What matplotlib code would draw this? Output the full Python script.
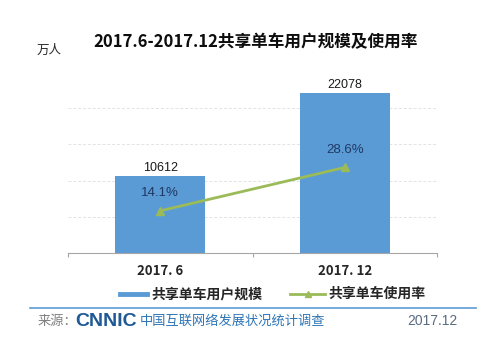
import matplotlib
matplotlib.use("Agg")
import matplotlib.pyplot as plt
import numpy as np

plt.rcParams['font.family'] = ['Noto Sans CJK SC', 'DejaVu Sans']

categories = ['2017. 6', '2017. 12']
users = [10612, 22078]          # 万人
usage_rate = [14.1, 28.6]       # %
bar_labels = ['10612', '22078']
rate_labels = ['14.1%', '28.6%']

W, H = 500, 343
fig = plt.figure(figsize=(W / 100, H / 100), dpi=100)
fig.patch.set_facecolor('white')

def fx(px):
    return px / W

def fy(py):
    return 1 - py / H

# main axes (pixel box)
left, right, top, bottom = 68, 437, 72, 253
ax = fig.add_axes([fx(left), fy(bottom), fx(right - left), (bottom - top) / H])
x = np.arange(len(categories))
ax.bar(x, users, width=0.49, color='#5B9BD5', zorder=2)
ax.set_xlim(-0.5, 1.5)
ax.set_ylim(0, 25000)
for v in [5000, 10000, 15000, 20000]:
    ax.axhline(v, color='#E3E3E3', lw=0.7, ls=(0, (3, 2)), zorder=1)
for s in ['left', 'right', 'top']:
    ax.spines[s].set_visible(False)
ax.spines['bottom'].set_color('#A6A6A6')
ax.set_yticks([])
ax.set_xticks([-0.5, 0.5, 1.5])
ax.set_xticklabels([])
ax.tick_params(axis='x', length=3, color='#A6A6A6')
for i, lab in enumerate(bar_labels):
    ax.text(x[i], users[i] + 350, lab, ha='center', va='bottom',
            fontsize=9, family='Liberation Sans', color='#1a1a1a')
for i, c in enumerate(categories):
    ax.text(x[i], -1500, c, ha='center', va='top', fontsize=9.5,
            fontweight='bold', color='#262626')

ax2 = ax.twinx()
ax2.set_ylim(0, 60.5)
ax2.plot(x, usage_rate, color='#9BBB59', lw=2, marker='^', markersize=6, zorder=3)
ax2.set_yticks([])
for s in ['left', 'right', 'top', 'bottom']:
    ax2.spines[s].set_visible(False)
for i, lab in enumerate(rate_labels):
    ax2.text(x[i], usage_rate[i] + 3.8, lab, ha='center', va='bottom',
             fontsize=9.5, family='Liberation Sans', color='#1F3864')

# title and unit
fig.text(fx(256), fy(42), '2017.6-2017.12共享单车用户规模及使用率', ha='center',
         va='center', fontsize=12, fontweight='bold', color='#0d0d0d')
fig.text(fx(49), fy(50), '万人', ha='center', va='center', fontsize=9, color='#262626')

# legend drawn manually
fig.add_artist(plt.Line2D([fx(120), fx(147)], [fy(294), fy(294)], color='#5B9BD5', lw=3.5))
fig.text(fx(151), fy(294), '共享单车用户规模', ha='left', va='center', fontsize=10,
         fontweight='bold', color='#262626')
fig.add_artist(plt.Line2D([fx(290), fx(325)], [fy(294), fy(294)], color='#9BBB59', lw=2))
fig.add_artist(plt.Line2D([fx(307.5)], [fy(294)], color='#9BBB59', marker='^',
                          markersize=5, lw=0))
fig.text(fx(328), fy(294), '共享单车使用率', ha='left', va='center', fontsize=10,
         fontweight='bold', color='#262626')

# footer
fig.add_artist(plt.Line2D([fx(30), fx(476)], [fy(308), fy(308)], color='#5B9BD5', lw=1.2))
fig.text(fx(38), fy(321), '来源：', ha='left', va='center', fontsize=9.5, color='#7F7F7F')
fig.text(fx(75), fy(321), 'CNNIC', ha='left', va='center', fontsize=14, fontweight='heavy',
         family='Liberation Sans', color='#1F5A96')
fig.text(fx(140), fy(321), '中国互联网络发展状况统计调查', ha='left', va='center',
         fontsize=9.5, color='#2E75B6')
fig.text(fx(458), fy(321), '2017.12', ha='right', va='center', fontsize=10,
         family='Liberation Sans', color='#5A6B80')

fig.savefig('out.png', dpi=100)
